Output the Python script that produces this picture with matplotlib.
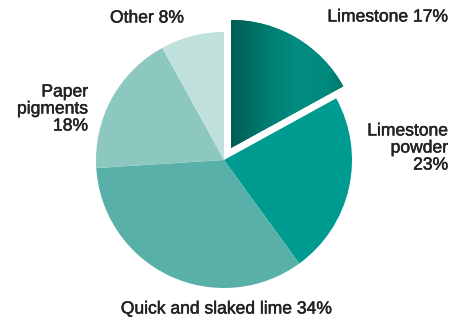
import numpy as np
import matplotlib
matplotlib.use("Agg")
import matplotlib.pyplot as plt
import matplotlib.patheffects as pe
from matplotlib.colors import LinearSegmentedColormap

categories = ["Limestone", "Limestone powder", "Quick and slaked lime", "Paper pigments", "Other"]
shares = [17, 23, 34, 18, 8]
label_texts = ["Limestone 17%", "Limestone\npowder\n23%", "Quick and slaked lime 34%",
               "Paper\npigments\n18%", "Other 8%"]
colors = ["#00776b", "#009b90", "#58b0a8", "#8dc8c0", "#bfe0db"]

W, H = 451, 321
fig = plt.figure(figsize=(W / 100, H / 100), dpi=100)
ax = fig.add_axes([0, 0, 1, 1])

cx, cy, r = 224, H - 160, 128
explode = [14, 0, 0, 0, 0]
wedges, _ = ax.pie(shares, colors=colors, explode=explode, startangle=90,
                   counterclock=False, radius=r, center=(cx, cy),
                   wedgeprops=dict(linewidth=0), frame=True)

# horizontal shading across the pulled-out slice
w0 = wedges[0]
x0, y0 = w0.center
grad = LinearSegmentedColormap.from_list("lime", ["#005b52", "#007a6e", "#008d80", "#008a7d", "#00655b"])
g = np.linspace(0, 1, 256)[None, :]
img = ax.imshow(g, cmap=grad, extent=(x0, x0 + r, y0, y0 + r), origin="lower",
                aspect="auto", zorder=3)
img.set_clip_path(w0)

ax.set_xlim(0, W)
ax.set_ylim(0, H)
ax.set_aspect("equal")
ax.axis("off")

font = dict(family="Liberation Sans", fontsize=12.6, color="#222222", linespacing=1.17,
            path_effects=[pe.withStroke(linewidth=0.35, foreground="#222222")])
ax.text(448, H - 17, label_texts[0], ha="right", va="center", **font)
ax.text(448, H - 148, label_texts[1], ha="right", va="center", multialignment="right", **font)
ax.text(226, H - 309, label_texts[2], ha="center", va="center", **font)
ax.text(88, H - 109, label_texts[3], ha="right", va="center", multialignment="right", **font)
ax.text(147, H - 18, label_texts[4], ha="center", va="center", **font)

fig.savefig("out.png", dpi=100, facecolor="white")
